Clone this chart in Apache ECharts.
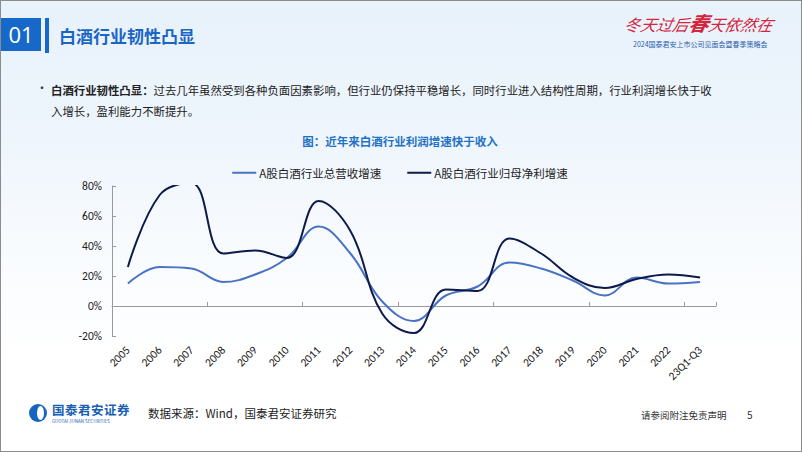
<!DOCTYPE html>
<html>
<head>
<meta charset="utf-8">
<script src="https://cdn.jsdelivr.net/npm/echarts@6/dist/echarts.min.js"></script>
<style>
  html, body { margin: 0; padding: 0; }
  body { width: 802px; height: 452px; overflow: hidden; font-family: "Noto Sans CJK SC", "Noto Sans", sans-serif; }
  #slide {
    position: relative; width: 800px; height: 450px; border: 1px solid #8c8c8c;
    background: linear-gradient(to bottom, #e8f2fb 0%, #eef5fc 30%, #f8fbfe 55%, #ffffff 80%);
  }
  #main { position: absolute; left: -1px; top: -1px; width: 802px; height: 452px; }
  .abs { position: absolute; white-space: nowrap; }
</style>
</head>
<body>
<div id="slide">
  <!-- 页眉 -->
  <div class="abs" style="left:0;top:17px;width:40px;height:33px;background:#1769c9;color:#fff;font:22px 'Open Sans',sans-serif;line-height:33px;text-align:center;">01</div>
  <div class="abs" style="left:44px;top:17px;width:4px;height:35px;background:#1769c9;"></div>
  <div class="abs" style="left:58px;top:24px;font-size:17px;line-height:22px;font-weight:bold;color:#1a66c4;">白酒行业韧性凸显</div>
  <div class="abs" style="left:624px;top:10px;font-size:16px;line-height:24px;font-style:italic;color:#d3253b;transform:skewX(-12deg);">冬天过后<span style="font-size:20px;font-weight:bold">春</span>天依然在</div>
  <div class="abs" style="left:632px;top:39px;font-size:7px;line-height:9px;color:#2b5eab;">2024国泰君安上市公司见面会暨春季策略会</div>
  <!-- 正文 -->
  <div class="abs" style="left:35px;top:78px;font-size:12px;color:#333;">•</div>
  <div class="abs" style="left:50px;top:79px;font-size:11.4px;line-height:21px;color:#222;"><b>白酒行业韧性凸显：</b>过去几年虽然受到各种负面因素影响，但行业仍保持平稳增长，同时行业进入结构性周期，行业利润增长快于收<br>入增长，盈利能力不断提升。</div>
  <!-- 页脚 -->
  <div class="abs" style="left:28px;top:403px;width:18px;height:18px;border-radius:50%;background:#1565c0;overflow:hidden;">
    <div style="position:absolute;left:8px;top:2px;width:7px;height:14px;border-radius:50%;background:#fff;"></div>
  </div>
  <div class="abs" style="left:51px;top:402px;font-size:12.5px;line-height:14px;font-weight:bold;color:#1a5fb4;letter-spacing:0.5px;">国泰君安证券</div>
  <div class="abs" style="left:51px;top:418px;font-size:4.5px;line-height:5px;color:#1a5fb4;">GUOTAI JUNAN SECURITIES</div>
  <div class="abs" style="left:147px;top:404px;font-size:11.5px;color:#222;">数据来源：Wind，国泰君安证券研究</div>
  <div class="abs" style="left:640px;top:407px;font-size:9.5px;color:#333;">请参阅附注免责声明</div>
  <div class="abs" style="left:746px;top:406px;font-size:10px;color:#333;">5</div>
</div>
<div id="main"></div>
<script>
// 横轴类别
var years = ['2005', '2006', '2007', '2008', '2009', '2010', '2011', '2012', '2013', '2014',
    '2015', '2016', '2017', '2018', '2019', '2020', '2021', '2022', '23Q1-Q3'];
// 总营收增速(%)
var revenue = [15, 26, 25, 16, 21, 32, 53, 35, 3, -10, 7, 13, 29, 25, 17, 7, 19, 15, 16];
// 归母净利增速(%)
var profit = [26, 74, 82, 35, 37, 32, 70, 50, -5, -18, 11, 10, 45, 35, 19, 12, 18, 21, 19];
// 纵轴范围
var yTicks = {min: -20, max: 80, interval: 20};

var chart = echarts.init(document.getElementById('main'), null, {renderer: 'svg'});

var labelFont = 'Calibri, "Liberation Sans", "Noto Sans CJK SC", sans-serif';

var option = {
    backgroundColor: 'transparent',
    animation: false,
    title: {
        text: '图：近年来白酒行业利润增速快于收入',
        left: 'center',
        top: 131,
        textStyle: {color: '#1f72c6', fontSize: 11.5, fontWeight: 'bold', fontFamily: '"Noto Sans CJK SC"'}
    },
    legend: {
        top: 163,
        left: 'center',
        itemGap: 26,
        itemWidth: 24,
        itemHeight: 2,
        icon: 'rect',
        textStyle: {color: '#222', fontSize: 11.5, fontFamily: '"Noto Sans CJK SC"', padding: [0, 0, 0, -2]},
        data: ['A股白酒行业总营收增速', 'A股白酒行业归母净利增速']
    },
    grid: {left: 113, top: 187, width: 604, height: 150, containLabel: false},
    xAxis: [
        {
            type: 'category',
            data: years,
            boundaryGap: true,
            axisLine: {onZero: true, lineStyle: {color: '#9a9a9a', width: 1}},
            axisTick: {show: true, inside: true, length: 4, lineStyle: {color: '#9a9a9a'}},
            axisLabel: {show: false}
        },
        {
            type: 'category',
            data: years,
            position: 'bottom',
            axisLine: {show: false, onZero: false},
            axisTick: {show: false},
            axisLabel: {rotate: 45, margin: 12, interval: 0, fontSize: 11.5, color: '#222', fontFamily: labelFont}
        }
    ],
    yAxis: {
        type: 'value',
        min: yTicks.min,
        max: yTicks.max,
        interval: yTicks.interval,
        axisLine: {show: true, lineStyle: {color: '#9a9a9a'}},
        axisTick: {show: true, inside: true, length: 4, lineStyle: {color: '#9a9a9a'}},
        splitLine: {show: false},
        axisLabel: {formatter: '{value}%', fontSize: 11.5, color: '#222', margin: 10, fontFamily: labelFont}
    },
    series: [
        {
            name: 'A股白酒行业总营收增速',
            type: 'line',
            smooth: 0.4,
            symbol: 'none',
            clip: true,
            data: revenue,
            lineStyle: {color: '#4a72c2', width: 2},
            itemStyle: {color: '#4a72c2'}
        },
        {
            name: 'A股白酒行业归母净利增速',
            type: 'line',
            smooth: 0.4,
            symbol: 'none',
            clip: true,
            data: profit,
            lineStyle: {color: '#0e1b4a', width: 2},
            itemStyle: {color: '#0e1b4a'}
        }
    ]
};
chart.setOption(option);
</script>
</body>
</html>
